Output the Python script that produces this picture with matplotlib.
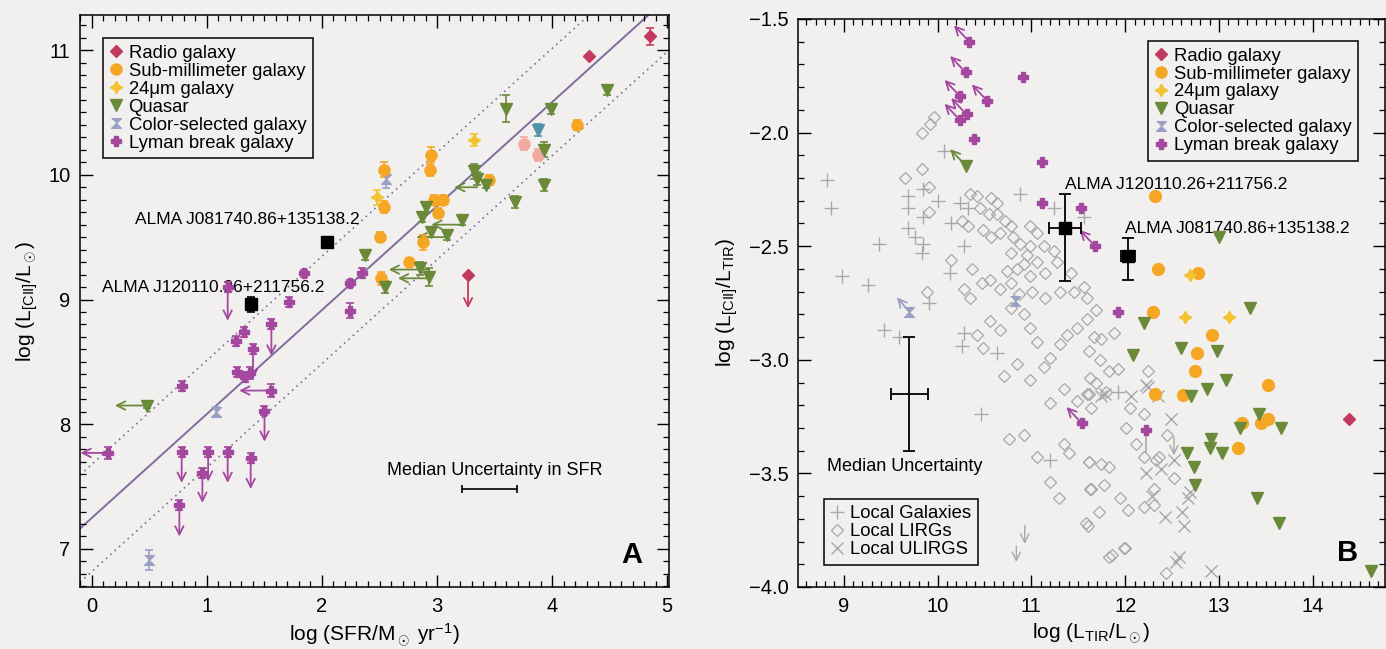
import matplotlib

matplotlib.use("Agg")
import matplotlib.pyplot as plt
from matplotlib.lines import Line2D
from matplotlib.ticker import MultipleLocator

plt.rcParams['font.family'] = ['Liberation Sans', 'DejaVu Sans']
plt.rcParams['mathtext.fontset'] = 'custom'
plt.rcParams['mathtext.rm'] = 'Liberation Sans'
plt.rcParams['mathtext.it'] = 'Liberation Sans:italic'
plt.rcParams['mathtext.sf'] = 'Liberation Sans'

# ---------------- panel A: L[CII] vs SFR ----------------
radio_a_x = [4.85, 4.32]
radio_a_y = [11.11, 10.95]
radio_a_yerr = [0.07, 0.0]
radio_a_lim_x = [3.27]
radio_a_lim_y = [9.20]
radio_a_lim_tip = [8.93]

smg_a_x = [4.22, 3.45, 2.95, 2.94, 2.54, 2.97, 3.05, 3.01, 2.88, 2.50, 2.76, 2.51, 2.54]
smg_a_y = [10.40, 9.96, 10.16, 10.04, 10.04, 9.80, 9.80, 9.69, 9.46, 9.50, 9.30, 9.17, 9.74]
smg_a_yerr = [0.04, 0.04, 0.06, 0.05, 0.06, 0.04, 0.04, 0.04, 0.06, 0.04, 0.03, 0.05, 0.05]
smg_faint_a_x = [3.76, 3.88]
smg_faint_a_y = [10.25, 10.16]

mir_a_x = [3.32, 2.48]
mir_a_y = [10.28, 9.82]
mir_a_yerr = [0.05, 0.06]

qso_a_x = [3.60, 3.99, 4.48, 3.93, 3.93, 3.68, 3.32, 3.35, 3.43, 2.90, 2.87, 2.95,
           3.09, 3.22, 2.85, 2.93, 2.55, 2.37, 0.48]
qso_a_y = [10.53, 10.53, 10.68, 10.20, 9.92, 9.78, 10.03, 9.97, 9.92, 9.74, 9.66, 9.54,
           9.52, 9.64, 9.25, 9.18, 9.10, 9.36, 8.15]
qso_a_yerr = [0.11, 0.04, 0.04, 0.06, 0.05, 0.05, 0.06, 0.05, 0.03, 0.04, 0.04, 0.04,
              0.04, 0.04, 0.05, 0.07, 0.05, 0.04, 0.02]
qso_teal_a_x = [3.88]
qso_teal_a_y = [10.36]
# quasars with SFR upper limits (left arrows): start x, y, arrow tip x
qso_lim_a_x = [3.35, 3.22, 3.09, 2.93, 2.93, 0.48]
qso_lim_a_y = [9.90, 9.60, 9.50, 9.24, 9.17, 8.15]
qso_lim_a_tip = [3.15, 2.95, 2.82, 2.58, 2.66, 0.20]

csg_a_x = [2.56, 1.08, 0.50]
csg_a_y = [9.97, 8.10, 6.91]
csg_a_yerr = [0.08, 0.04, 0.08]

lbg_a_x = [1.84, 2.24, 2.35, 1.71, 2.24, 1.32, 1.25, 1.26, 1.33, 1.37, 0.78]
lbg_a_y = [9.21, 9.13, 9.21, 8.98, 8.91, 8.74, 8.67, 8.42, 8.38, 8.41, 8.31]
lbg_a_yerr = [0.03, 0.03, 0.04, 0.04, 0.06, 0.04, 0.04, 0.04, 0.04, 0.05, 0.04]
# L[CII] upper limits (down arrows)
lbg_ul_a_x = [1.18, 1.56, 1.40, 1.50, 0.78, 1.01, 1.18, 1.38, 0.96, 0.76]
lbg_ul_a_y = [9.10, 8.80, 8.60, 8.11, 7.78, 7.78, 7.78, 7.73, 7.61, 7.35]
lbg_ul_a_tip = [8.83, 8.55, 8.36, 7.86, 7.53, 7.54, 7.53, 7.48, 7.37, 7.10]
# SFR upper limits (left arrows)
lbg_sl_a_x = [1.56, 0.14]
lbg_sl_a_y = [8.27, 7.77]
lbg_sl_a_tip = [1.28, -0.10]

alma_a_x = [2.04, 1.38]
alma_a_y = [9.46, 8.96]
alma_a_yerr = [0.02, 0.06]
alma_names = ["ALMA J081740.86+135138.2", "ALMA J120110.26+211756.2"]

fit_slope = 0.833
fit_intercept = 7.25
fit_scatter = 0.43
sfr_median_unc = 0.24

# ---------------- panel B: L[CII]/L_TIR vs L_TIR ----------------
radio_b_x = [12.92, 14.39]
radio_b_y = [-1.97, -3.26]

smg_b_x = [12.32, 12.35, 12.78, 12.30, 12.93, 12.77, 12.74, 12.32, 12.62, 13.52, 13.25,
           13.45, 13.52, 13.20]
smg_b_y = [-2.28, -2.60, -2.62, -2.79, -2.89, -2.97, -3.05, -3.15, -3.155, -3.11, -3.28,
           -3.28, -3.26, -3.39]

mir_b_x = [12.69, 12.64, 13.11]
mir_b_y = [-2.625, -2.81, -2.81]

qso_b_x = [13.00, 13.33, 12.20, 12.08, 12.60, 12.98, 13.08, 12.87, 12.70, 13.43, 13.66,
           13.22, 12.92, 12.90, 13.03, 12.66, 12.73, 12.74, 13.41, 13.64, 14.62]
qso_b_y = [-2.46, -2.77, -2.84, -2.98, -2.95, -2.96, -3.09, -3.13, -3.16, -3.24, -3.30,
           -3.30, -3.35, -3.39, -3.41, -3.41, -3.47, -3.55, -3.61, -3.72, -3.93]
qso_lim_b_x = [10.30]
qso_lim_b_y = [-2.145]

lbg_b_x = [10.91, 10.39, 11.11, 11.11, 11.53, 11.92, 12.22]
lbg_b_y = [-1.757, -2.03, -2.13, -2.31, -2.33, -2.79, -3.31]
lbg_lim_b_x = [10.34, 10.30, 10.24, 10.53, 10.31, 10.24, 11.68, 11.54]
lbg_lim_b_y = [-1.60, -1.735, -1.84, -1.86, -1.92, -1.945, -2.50, -3.28]

csg_b_x = [9.70, 10.83]
csg_b_y = [-2.79, -2.74]

alma_b_x = [11.36, 12.03]
alma_b_y = [-2.42, -2.545]
alma_b_xerr = [0.17, 0.07]
alma_b_yerr_lo = [0.235, 0.105]
alma_b_yerr_hi = [0.15, 0.08]

lirg_x = [9.96, 9.92, 9.84, 9.83, 9.65, 9.91, 9.91, 10.35, 10.42, 10.57, 10.63, 10.45,
          10.55, 10.63, 10.72, 10.78, 10.33, 10.26, 10.49, 10.57, 10.67, 10.81, 10.99,
          11.06, 10.88, 10.78, 10.99, 11.13, 11.24, 10.92, 11.06, 10.85, 10.99, 11.15,
          11.27, 11.42, 10.47, 10.56, 10.67, 10.78, 10.87, 11.01, 11.15, 11.31, 11.45,
          11.56, 11.59, 10.28, 10.35, 10.14, 10.37, 9.89, 10.74, 10.95,
          10.42, 10.49, 10.71, 10.56, 10.67, 10.78, 10.92, 10.99, 11.06, 10.85, 10.99,
          11.13, 11.20, 11.31, 11.38, 11.49, 11.59, 11.67, 11.20, 11.35, 11.49, 11.59,
          11.63, 10.76, 10.92, 11.06, 11.35, 11.40, 11.20, 11.29, 11.61, 11.63, 11.58,
          11.69, 11.88, 11.74, 11.62, 11.73, 11.83, 11.92, 11.69, 11.62, 11.80, 11.64,
          12.05, 12.20, 12.24, 12.01, 12.12, 12.20, 12.36, 12.52, 12.45, 11.62, 11.74,
          11.83, 11.64, 11.78, 11.94, 12.03, 11.72, 11.60, 12.20, 12.31, 12.33, 11.99,
          11.83, 12.44, 12.31, 11.86, 12.00]
lirg_y = [-1.93, -1.96, -2.00, -2.16, -2.20, -2.24, -2.35, -2.27, -2.28, -2.29, -2.31,
          -2.33, -2.36, -2.36, -2.39, -2.41, -2.41, -2.39, -2.43, -2.46, -2.44, -2.46,
          -2.41, -2.44, -2.49, -2.53, -2.50, -2.50, -2.52, -2.58, -2.57, -2.60, -2.63,
          -2.62, -2.57, -2.62, -2.66, -2.65, -2.69, -2.66, -2.71, -2.70, -2.73, -2.70,
          -2.70, -2.68, -2.73, -2.69, -2.73, -2.56, -2.60, -2.70, -2.61, -2.54,
          -2.89, -2.95, -3.07, -2.83, -2.87, -2.77, -2.80, -2.86, -2.92, -3.02, -3.09,
          -3.03, -2.99, -2.93, -2.89, -2.86, -2.82, -2.90, -3.19, -3.13, -3.18, -3.15,
          -3.08, -3.35, -3.33, -3.43, -3.37, -3.41, -3.54, -3.61, -3.45, -3.57, -3.72,
          -2.78, -2.88, -2.91, -2.96, -3.00, -3.05, -3.04, -3.10, -3.15, -3.14, -3.21,
          -3.21, -3.24, -3.05, -3.30, -3.37, -3.43, -3.43, -3.52, -3.33, -3.45, -3.46,
          -3.47, -3.57, -3.55, -3.61, -3.66, -3.67, -3.73, -3.65, -3.64, -3.44, -3.83,
          -3.87, -3.94, -3.57, -3.86, -3.83]

local_x = [8.82, 8.86, 9.38, 8.98, 9.26, 9.69, 9.69, 9.85, 10.01, 9.85, 9.69, 9.76, 9.85,
           9.84, 10.13, 10.24, 10.33, 10.14, 10.28, 10.07, 10.88, 11.24, 11.56, 9.43, 9.59,
           10.28, 10.26, 10.63, 10.46, 11.20, 9.91, 11.92]
local_y = [-2.21, -2.33, -2.49, -2.63, -2.67, -2.28, -2.33, -2.25, -2.30, -2.37, -2.42,
           -2.46, -2.49, -2.53, -2.62, -2.31, -2.33, -2.40, -2.50, -2.08, -2.27, -2.33,
           -2.37, -2.87, -2.90, -2.88, -2.94, -2.97, -3.24, -3.44, -2.75, -3.14]
local_ul_x = [10.93, 10.84, 12.52]
local_ul_y = [-3.73, -3.82, -3.34]
local_ul_tip = [-3.81, -3.89, -3.42]

ulirg_x = [11.74, 12.06, 12.22, 12.35, 12.49, 12.52, 12.22, 12.29, 12.42, 12.61, 12.63,
           12.67, 12.54, 12.92, 12.38, 12.24, 12.57, 11.79, 12.69]
ulirg_y = [-3.16, -3.16, -3.11, -3.16, -3.26, -3.44, -3.50, -3.60, -3.69, -3.67, -3.73,
           -3.61, -3.89, -3.93, -3.48, -3.12, -3.87, -3.15, -3.58]

median_unc_b = (9.70, -3.15, 0.20, 0.25)

BG = '#f2f0ef'
RADIO = '#c43a5e'
SMG = '#f5a623'
SMG_FAINT = '#f2aaa0'
MIR = '#f4c430'
QSO = '#6a8a3a'
QSO_TEAL = '#4f93a8'
CSG = '#9aa0c4'
LBG = '#a3479f'
FITC = '#7d6d9c'
GREY = '#a8a8a8'

HOURGLASS = [(-1, 1), (1, 1), (0, 0), (1, -1), (-1, -1), (0, 0)]
STAR4 = (4, 1, 0)
ARROW = dict(arrowstyle='->', lw=1.3, shrinkA=0, shrinkB=0, mutation_scale=15)
LIM_DX, LIM_DY = -0.165, 0.072


def arrow(ax, x0, y0, x1, y1, color, lw=1.3):
    props = dict(ARROW, color=color, lw=lw)
    ax.annotate('', xy=(x1, y1), xytext=(x0, y0), arrowprops=props, zorder=3)


def style_axes(ax):
    ax.set_facecolor(BG)
    ax.tick_params(which='both', direction='in', top=True, right=True, labelsize=14.5, pad=7)
    ax.tick_params(which='major', length=9, width=1)
    ax.tick_params(which='minor', length=4.5, width=0.9)
    for s in ax.spines.values():
        s.set_linewidth(1.1)


fig = plt.figure(figsize=(13.86, 6.49), dpi=100, facecolor=BG)

# ================= panel A =================
ax = fig.add_axes([80 / 1386, 62 / 649, 589 / 1386, 572 / 649])
style_axes(ax)
ax.set_xlim(-0.104, 5.017)
ax.set_ylim(6.695, 11.281)
ax.xaxis.set_major_locator(MultipleLocator(1))
ax.xaxis.set_minor_locator(MultipleLocator(0.1))
ax.yaxis.set_major_locator(MultipleLocator(1))
ax.yaxis.set_minor_locator(MultipleLocator(0.1))

ax.axline((0, fit_intercept), slope=fit_slope, color=FITC, lw=1.4, zorder=1)
for off in (fit_scatter, -fit_scatter):
    ax.axline((0, fit_intercept + off), slope=fit_slope, color=FITC, lw=1.2,
              ls=(0, (1, 2.5)), zorder=1)

eb = dict(capsize=3, elinewidth=1.2, capthick=1.2, ls='none', zorder=4)
ax.errorbar(radio_a_x, radio_a_y, yerr=radio_a_yerr, fmt='D', ms=6, color=RADIO, **eb)
ax.plot(radio_a_lim_x, radio_a_lim_y, 'D', ms=6, color=RADIO, zorder=4)
for x, y, t in zip(radio_a_lim_x, radio_a_lim_y, radio_a_lim_tip):
    arrow(ax, x, y, x, t, RADIO)

ax.errorbar(smg_a_x, smg_a_y, yerr=smg_a_yerr, fmt='o', ms=8, color=SMG, **eb)
ax.errorbar(smg_faint_a_x, smg_faint_a_y, yerr=0.05, fmt='o', ms=8, color=SMG_FAINT, **eb)
ax.errorbar(mir_a_x, mir_a_y, yerr=mir_a_yerr, fmt='none', color=MIR, **eb)
ax.plot(mir_a_x, mir_a_y, ls='none', marker=STAR4, ms=9, color=MIR, zorder=4)

for x, y, t in zip(qso_lim_a_x, qso_lim_a_y, qso_lim_a_tip):
    arrow(ax, x, y, t, y, QSO)
ax.errorbar(qso_a_x, qso_a_y, yerr=qso_a_yerr, fmt='v', ms=8, color=QSO, **eb)
ax.errorbar(qso_teal_a_x, qso_teal_a_y, yerr=0.05, fmt='v', ms=8, color=QSO_TEAL, **eb)
ax.errorbar(csg_a_x, csg_a_y, yerr=csg_a_yerr, fmt='none', color=CSG, **eb)
ax.plot(csg_a_x, csg_a_y, ls='none', marker=HOURGLASS, ms=7, color=CSG, zorder=4)

for x, y, t in zip(lbg_ul_a_x, lbg_ul_a_y, lbg_ul_a_tip):
    arrow(ax, x, y, x, t, LBG)
for x, y, t in zip(lbg_sl_a_x, lbg_sl_a_y, lbg_sl_a_tip):
    arrow(ax, x, y, t, y, LBG)
ax.errorbar(lbg_a_x, lbg_a_y, yerr=lbg_a_yerr, fmt='P', ms=7.5, color=LBG, **eb)
ax.errorbar(lbg_ul_a_x, lbg_ul_a_y, yerr=0.04, fmt='P', ms=7.5, color=LBG, **eb)
ax.errorbar(lbg_sl_a_x, lbg_sl_a_y, yerr=0.05, fmt='P', ms=7.5, color=LBG, **eb)

ax.errorbar(alma_a_x, alma_a_y, yerr=alma_a_yerr, fmt='s', ms=8, color='black', **eb)
ax.text(1.35, 9.64, alma_names[0], ha='center', va='center', fontsize=12.5)
ax.text(1.05, 9.10, alma_names[1], ha='center', va='center', fontsize=12.5)

ax.errorbar([3.457], [7.48], xerr=[sfr_median_unc], fmt='none', color='black',
            capsize=3, elinewidth=1.2, capthick=1.2)
ax.text(3.50, 7.63, "Median Uncertainty in SFR", ha='center', va='center', fontsize=13)
ax.text(4.69, 6.95, "A", ha='center', va='center', fontsize=21, fontweight='bold')

ax.set_xlabel(r'log (SFR/M$_\odot$ yr$^{-1}$)', fontsize=15, labelpad=4)
ax.set_ylabel(r'log (L$_{\rm [CII]}$/L$_\odot$)', fontsize=15, labelpad=6)

handles = [
    Line2D([], [], ls='none', marker='D', ms=6, color=RADIO, label='Radio galaxy'),
    Line2D([], [], ls='none', marker='o', ms=8, color=SMG, label='Sub-millimeter galaxy'),
    Line2D([], [], ls='none', marker=STAR4, ms=9, color=MIR, label='24\u03bcm galaxy'),
    Line2D([], [], ls='none', marker='v', ms=8, color=QSO, label='Quasar'),
    Line2D([], [], ls='none', marker=HOURGLASS, ms=7, color=CSG, label='Color-selected galaxy'),
    Line2D([], [], ls='none', marker='P', ms=7.5, color=LBG, label='Lyman break galaxy'),
]
leg_kw = dict(loc='upper left', fontsize=13.3, frameon=True, fancybox=False, framealpha=1,
              facecolor=BG, edgecolor='black', borderaxespad=0, handlelength=0.7,
              handletextpad=0.35, labelspacing=0.05, borderpad=0.35)
leg = ax.legend(handles=handles, bbox_to_anchor=(0.0385, 0.959), **leg_kw)
leg.get_frame().set_linewidth(1.1)

# ================= panel B =================
bx = fig.add_axes([798 / 1386, 62 / 649, 587 / 1386, 568 / 649])
style_axes(bx)
bx.set_xlim(8.513, 14.77)
bx.set_ylim(-4.0, -1.5)
bx.xaxis.set_major_locator(MultipleLocator(1))
bx.xaxis.set_minor_locator(MultipleLocator(0.1))
bx.yaxis.set_major_locator(MultipleLocator(0.5))
bx.yaxis.set_minor_locator(MultipleLocator(0.1))

bx.plot(lirg_x, lirg_y, ls='none', marker='D', ms=6.5, mfc='none', mec=GREY, mew=0.9, zorder=2)
bx.plot(local_x, local_y, ls='none', marker='+', ms=10, color=GREY, mew=1.0, zorder=2)
bx.plot(ulirg_x, ulirg_y, ls='none', marker='x', ms=9, color=GREY, mew=1.0, zorder=2)
for x, y, t in zip(local_ul_x, local_ul_y, local_ul_tip):
    arrow(bx, x, y, x, t, GREY, lw=1.0)

bx.plot(radio_b_x, radio_b_y, 'D', ms=6, color=RADIO, zorder=4)
bx.plot(smg_b_x, smg_b_y, 'o', ms=8.5, color=SMG, zorder=4)
bx.plot(mir_b_x, mir_b_y, ls='none', marker=STAR4, ms=9, color=MIR, zorder=4)
bx.plot(qso_b_x, qso_b_y, 'v', ms=8.5, color=QSO, zorder=4)
for x, y in zip(qso_lim_b_x, qso_lim_b_y):
    arrow(bx, x, y, x + LIM_DX, y + LIM_DY, QSO)
bx.plot(qso_lim_b_x, qso_lim_b_y, 'v', ms=8.5, color=QSO, zorder=4)

for x, y in zip(lbg_lim_b_x, lbg_lim_b_y):
    arrow(bx, x, y, x + LIM_DX, y + LIM_DY, LBG)
bx.plot(lbg_lim_b_x, lbg_lim_b_y, 'P', ms=7.5, color=LBG, zorder=4)
bx.plot(lbg_b_x, lbg_b_y, 'P', ms=7.5, color=LBG, zorder=4)
bx.errorbar([lbg_b_x[-1]], [lbg_b_y[-1]], yerr=[[0.1], [0.0]], fmt='none', color=GREY,
            elinewidth=1.2, zorder=3)

arrow(bx, csg_b_x[0], csg_b_y[0], csg_b_x[0] + LIM_DX * 0.8, csg_b_y[0] + LIM_DY * 0.9, CSG)
bx.plot(csg_b_x, csg_b_y, ls='none', marker=HOURGLASS, ms=7, color=CSG, zorder=4)

bx.errorbar(alma_b_x, alma_b_y, xerr=alma_b_xerr, yerr=[alma_b_yerr_lo, alma_b_yerr_hi],
            fmt='s', ms=8, color='black', capsize=4, elinewidth=1.3, capthick=1.3, zorder=5)
bx.text(11.36, -2.227, alma_names[1], ha='left', va='center', fontsize=12.5)
bx.text(12.00, -2.42, alma_names[0], ha='left', va='center', fontsize=12.5)

mx, my, mxe, mye = median_unc_b
bx.errorbar([mx], [my], xerr=[mxe], yerr=[mye], fmt='none', color='black', capsize=4,
            elinewidth=1.3, capthick=1.3)
bx.text(9.65, -3.47, "Median Uncertainty", ha='center', va='center', fontsize=13)
bx.text(14.37, -3.85, "B", ha='center', va='center', fontsize=21, fontweight='bold')

bx.set_xlabel(r'log (L$_{\rm TIR}$/L$_\odot$)', fontsize=15, labelpad=4)
bx.set_ylabel(r'log (L$_{\rm [CII]}$/L$_{\rm TIR}$)', fontsize=15, labelpad=6)

leg_b = bx.legend(handles=handles, bbox_to_anchor=(0.596, 0.961), **leg_kw)
leg_b.get_frame().set_linewidth(1.1)
bx.add_artist(leg_b)

local_handles = [
    Line2D([], [], ls='none', marker='+', ms=10, color=GREY, mew=1.0, label='Local Galaxies'),
    Line2D([], [], ls='none', marker='D', ms=6.5, mfc='none', mec=GREY, mew=0.9, label='Local LIRGs'),
    Line2D([], [], ls='none', marker='x', ms=9, color=GREY, mew=1.0, label='Local ULIRGS'),
]
leg_c = bx.legend(handles=local_handles, bbox_to_anchor=(0.045, 0.155), **leg_kw)
leg_c.get_frame().set_linewidth(1.1)

fig.savefig("out.png", dpi=100, facecolor=BG)
